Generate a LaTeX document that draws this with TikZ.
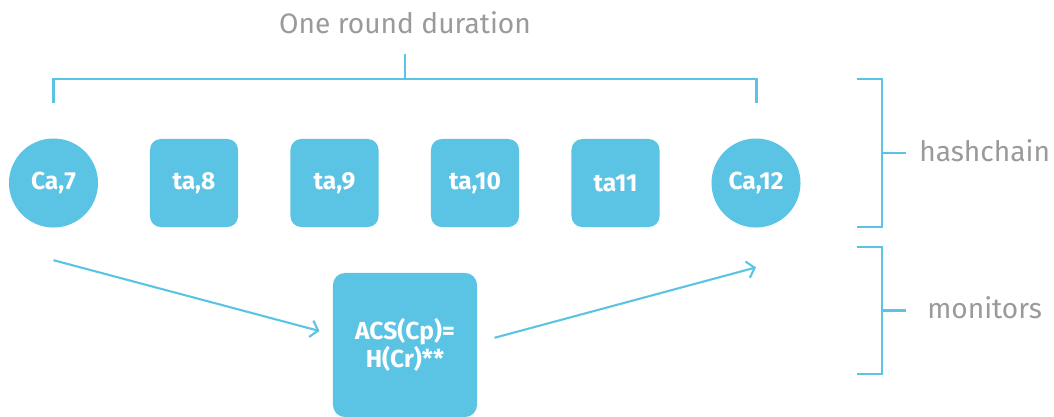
\documentclass[tikz,border=0pt]{standalone}
\usepackage{fontspec}
\setmainfont{Fira Sans}
\usetikzlibrary{arrows.meta}
\definecolor{skyfill}{HTML}{5BC3E3}
\definecolor{labelgray}{HTML}{9A9A9A}
\begin{document}
\begin{tikzpicture}[x=0.025cm,y=-0.025cm,
    hub/.style={circle,fill=skyfill,minimum size=2.225cm,inner sep=0pt,text=white,font=\bfseries\fontsize{17.5}{20}\selectfont},
    blk/.style={rectangle,rounded corners=0.27cm,fill=skyfill,minimum size=2.2cm,inner sep=0pt,text=white,font=\bfseries\fontsize{17.5}{20}\selectfont},
    brk/.style={draw=skyfill,line width=1.5pt},
    arr/.style={draw=skyfill,line width=1.5pt,-{Straight Barb[length=1.8mm,width=4.2mm]}},
    lbl/.style={inner sep=0pt,text=labelgray,font=\fontsize{20}{24}\selectfont}]
                \useasboundingbox (0,0) rectangle (1054,416);

                \node[hub] (c7) at (53.5,183) {Ca,7};
                \node[blk] (t8) at (194,183) {ta,8};
                \node[blk] (t9) at (334.5,183) {ta,9};
                \node[blk] (t10) at (475,183) {ta,10};
                \node[blk] (t11) at (615.5,183) {ta11};
                \node[hub] (c12) at (756,183) {Ca,12};

                \node[blk,minimum size=3.6cm,rounded corners=0.3cm,align=center] (acs) at (405,345) {ACS(Cp)=\\H(Cr)**};

                % round bracket
                \draw[brk] (53.5,103) -- (53.5,79) -- (756.5,79) -- (756.5,103);
                \draw[brk] (405,79) -- (405,54);
                \node[lbl,anchor=base] (dur) at (405,33) {One round duration};

                % side brackets
                \draw[brk] (857,79) -- (882,79) -- (882,227) -- (857,227);
                \draw[brk] (882,153) -- (906,153);
                \node[lbl,anchor=base west] (hc) at (919,161) {hashchain};

                \draw[brk] (857,247) -- (882,247) -- (882,374) -- (857,374);
                \draw[brk] (882,310.5) -- (906,310.5);
                \node[lbl,anchor=base west] (mon) at (927,318) {monitors};

                \draw[arr] ([yshift=-0.81cm]c7.south) -- ([xshift=-0.33cm,yshift=0.35cm]acs.west);
                \draw[arr] ([xshift=0.43cm,yshift=0.18cm]acs.east) -- ([yshift=-0.99cm]c12.south);
            \end{tikzpicture}
\end{document}
